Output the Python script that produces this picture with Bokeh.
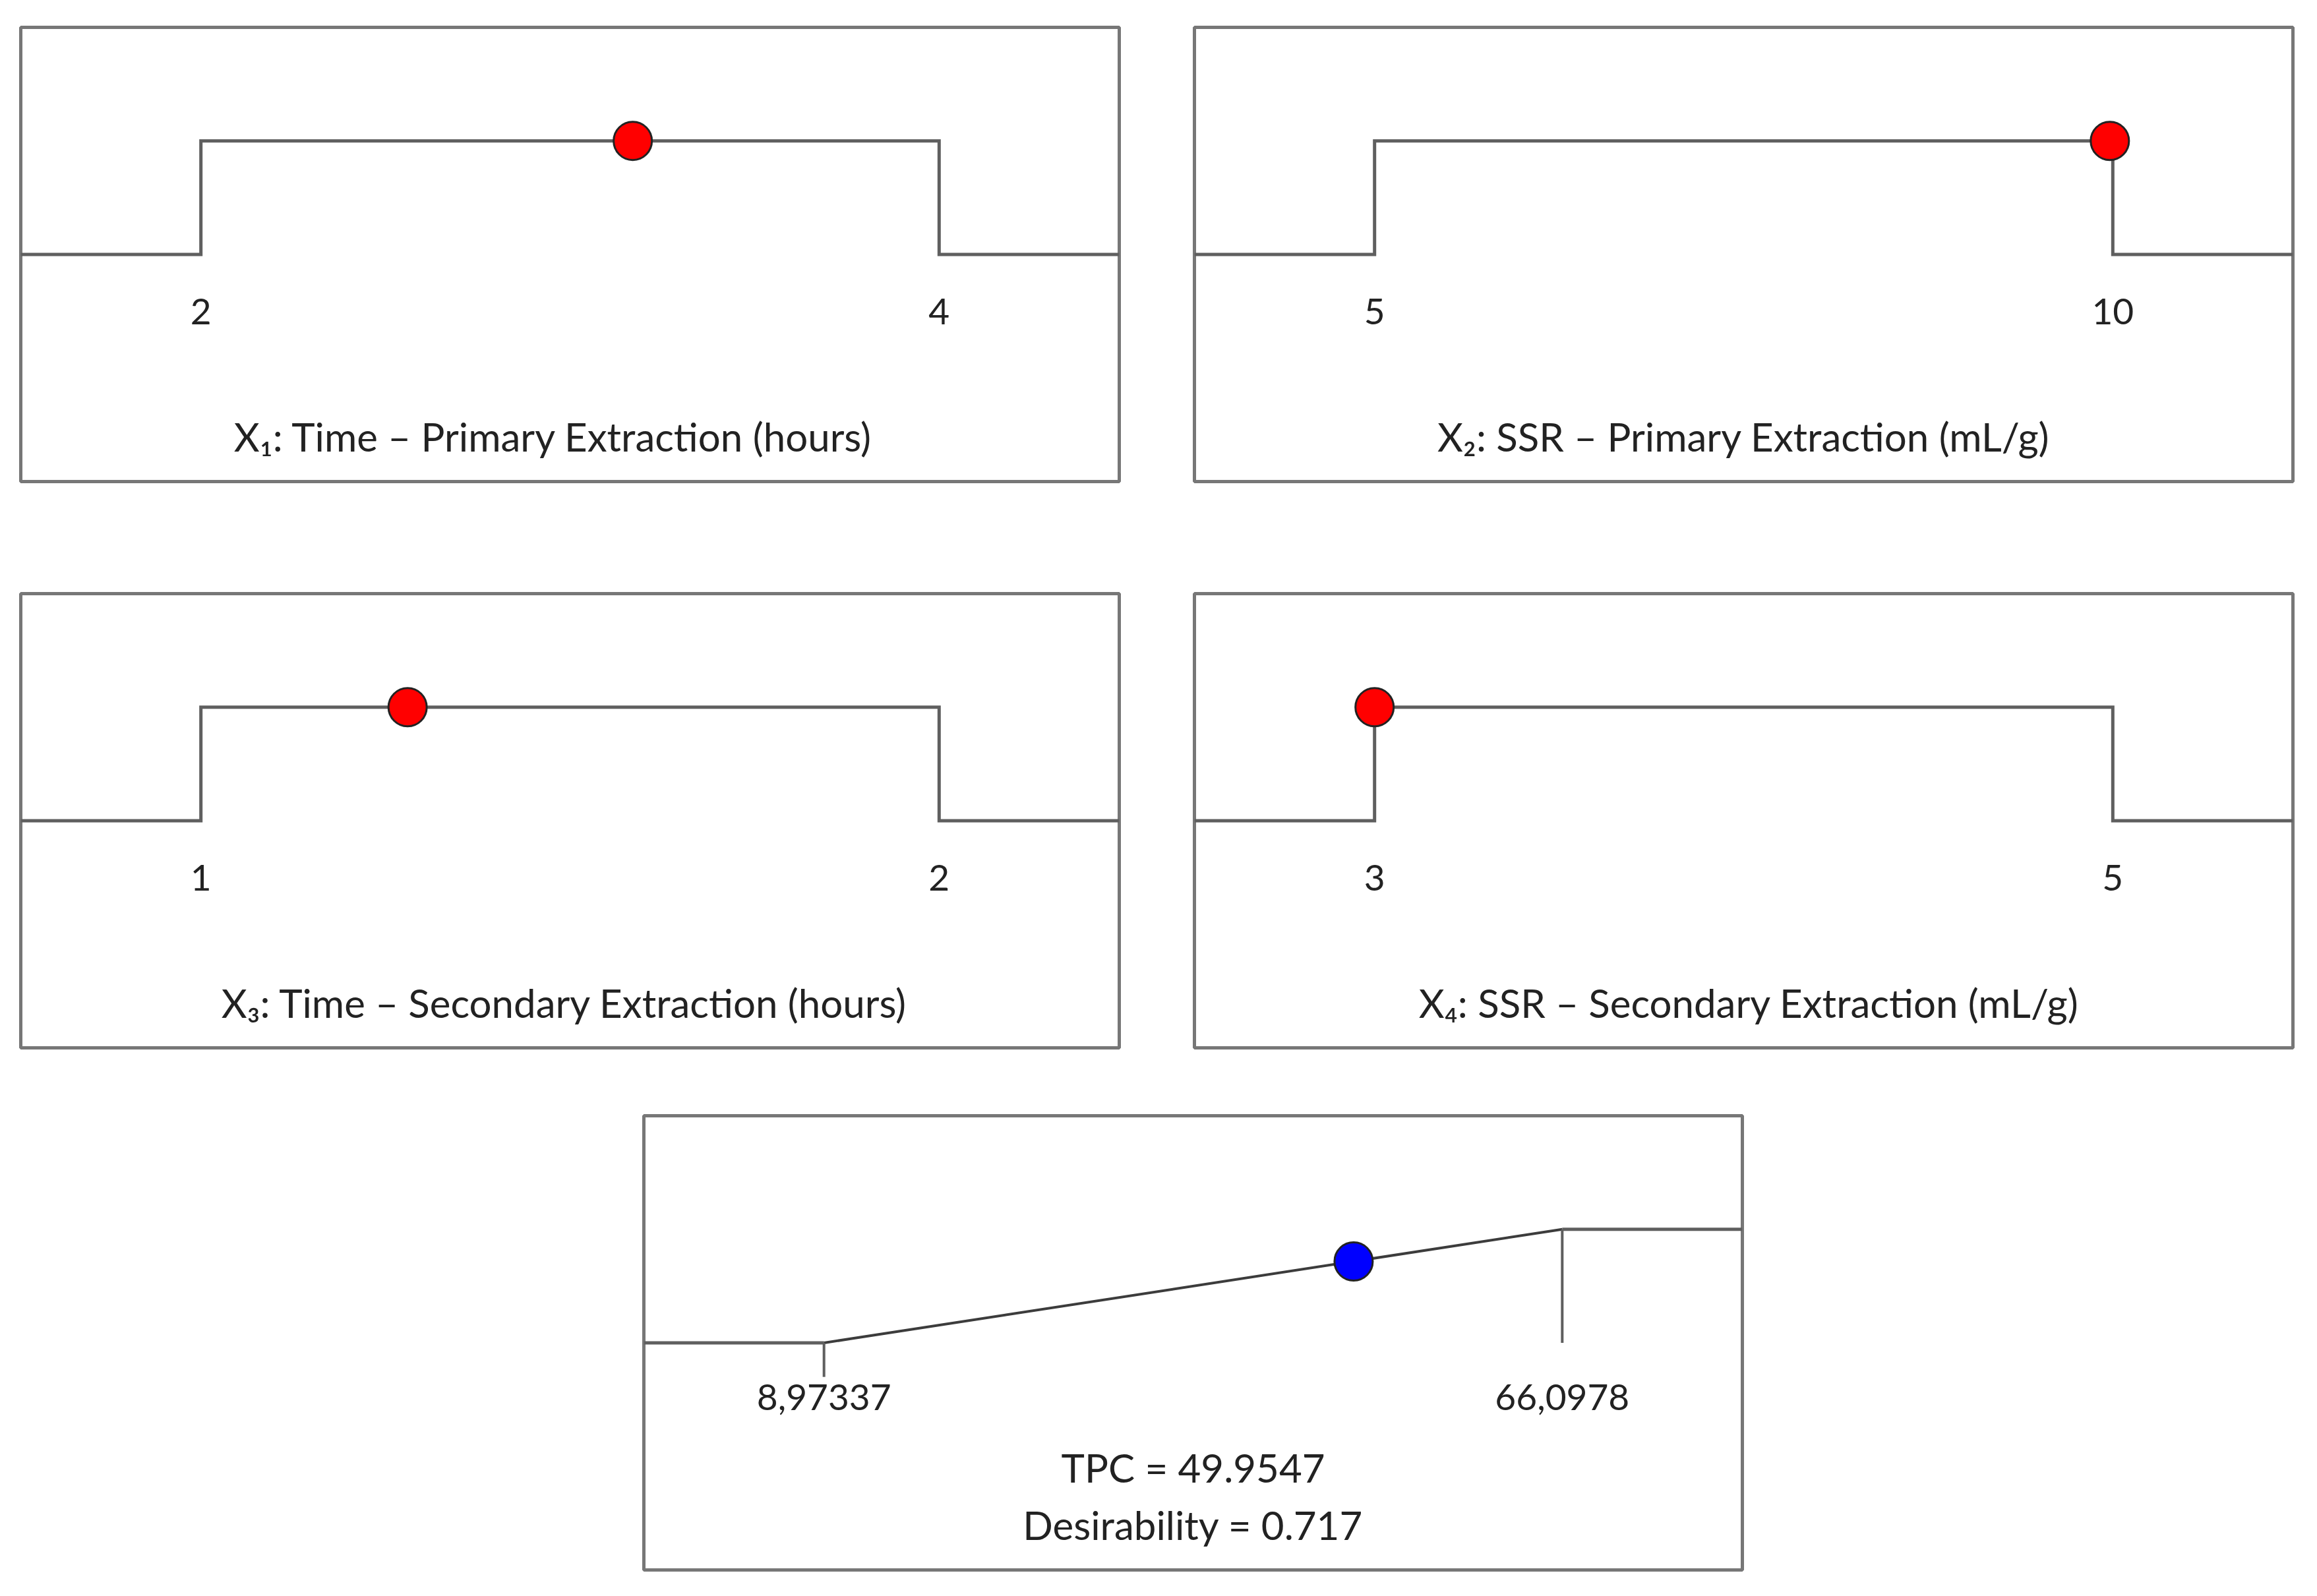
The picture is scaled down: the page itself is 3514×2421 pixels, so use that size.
from bokeh.plotting import figure
from bokeh.layouts import column, row
from bokeh.models import Spacer, Range1d
from bokeh.core.properties import value
from bokeh.embed import file_html
from bokeh.resources import INLINE

# ---- data ----
factor_labels = [
    "X\u2081: Time \u2013 Primary Extraction (hours)",
    "X\u2082: SSR \u2013 Primary Extraction (mL/g)",
    "X\u2083: Time \u2013 Secondary Extraction (hours)",
    "X\u2084: SSR \u2013 Secondary Extraction (mL/g)",
]
factor_low = [2, 5, 1, 3]
factor_high = [4, 10, 2, 5]
factor_low_text = ["2", "5", "1", "3"]
factor_high_text = ["4", "10", "2", "5"]
factor_optimum = [3.17, 9.98, 1.28, 3.0]

response_low = 8.97337
response_high = 66.0978
response_low_text = "8,97337"
response_high_text = "66,0978"
response_value = 49.9547
desirability = 0.717
response_texts = ["TPC = 49.9547", "Desirability = 0.717"]

# ---- style ----
FONT = value("Lato")
TXT = "#222222"
LINE = "#5f5f5f"
BORDER = "#777777"
FS_TITLE = "60px"
FS_TICK = "55px"
PAD = 0.244
FW, FH = 1674, 697
TITLE_SHIFT = [-25, 0, -8, 8]   # small horizontal nudges of panel titles (px)


def base_fig(lo, hi):
    span = hi - lo
    p = figure(width=FW, height=FH,
               x_range=Range1d(lo - PAD * span, hi + PAD * span),
               y_range=Range1d(-2, 2),
               x_axis_location=None, y_axis_location=None,
               output_backend="svg", toolbar_location=None,
               min_border=4, min_border_left=4, min_border_right=4,
               min_border_top=4, min_border_bottom=4)
    p.grid.visible = False
    p.outline_line_color = BORDER
    p.outline_line_width = 5
    p.background_fill_color = "white"
    p.border_fill_color = "white"
    return p


def factor_panel(i):
    lo, hi = factor_low[i], factor_high[i]
    p = base_fig(lo, hi)
    x0, x1 = p.x_range.start, p.x_range.end
    p.line([x0, lo, lo, hi, hi, x1], [0, 0, 1, 1, 0, 0],
           line_color=LINE, line_width=5, line_join="miter")
    p.scatter([factor_optimum[i]], [1], size=58, fill_color="#ff0000",
              line_color="#222222", line_width=3)
    p.text([lo, hi], [-0.5, -0.5], text=[factor_low_text[i], factor_high_text[i]],
           text_align="center", text_baseline="middle", text_font=FONT,
           text_font_size=FS_TICK, text_color=TXT)
    p.text([(lo + hi) / 2], [-1.6], text=[factor_labels[i]],
           x_offset=TITLE_SHIFT[i],
           text_align="center", text_baseline="middle", text_font=FONT,
           text_font_size=FS_TITLE, text_color=TXT)
    return p


def response_panel():
    lo, hi = response_low, response_high
    p = base_fig(lo, hi)
    x0, x1 = p.x_range.start, p.x_range.end
    p.line([x0, lo], [0, 0], line_color=LINE, line_width=5)
    p.line([lo, hi], [0, 1], line_color="#3c3c3c", line_width=4)
    p.line([hi, x1], [1, 1], line_color=LINE, line_width=5)
    p.segment(x0=[lo, hi], y0=[0, 1], x1=[lo, hi], y1=[-0.3, 0],
              line_color=LINE, line_width=4)
    p.scatter([response_value], [desirability], size=58, fill_color="#0000ff",
              line_color="#222222", line_width=3)
    p.text([lo, hi], [-0.48, -0.48], text=[response_low_text, response_high_text],
           text_align="center", text_baseline="middle", text_font=FONT,
           text_font_size=FS_TICK, text_color=TXT)
    mid = (lo + hi) / 2
    p.text([mid, mid], [-1.1, -1.6], text=response_texts,
           text_align="center", text_baseline="middle", text_font=FONT,
           text_font_size=FS_TITLE, text_color=TXT)
    return p


p1, p2, p3, p4 = [factor_panel(i) for i in range(4)]
p5 = response_panel()

layout = column(
    Spacer(width=10, height=37),
    row(Spacer(width=27, height=FH), p1, Spacer(width=106, height=FH), p2),
    Spacer(width=10, height=162),
    row(Spacer(width=27, height=FH), p3, Spacer(width=106, height=FH), p4),
    Spacer(width=10, height=95),
    row(Spacer(width=972, height=FH), p5),
)

open("out.html", "w").write(file_html(layout, INLINE))
